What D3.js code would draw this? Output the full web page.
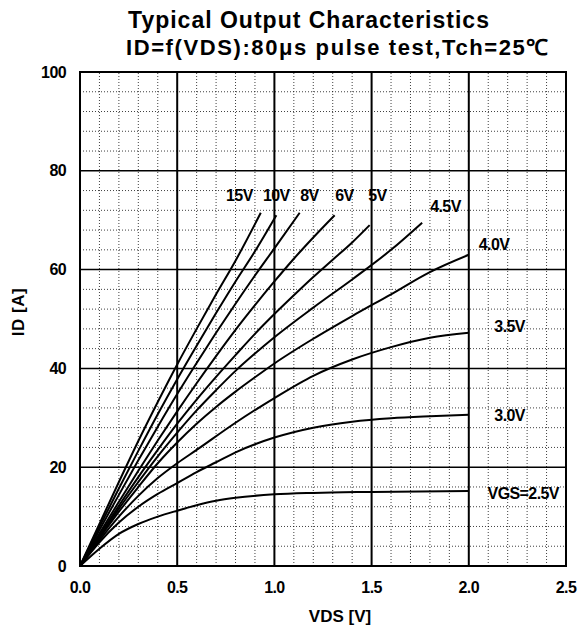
<!DOCTYPE html>
<html>
<head>
<meta charset="utf-8">
<script src="https://d3js.org/d3.v7.min.js"></script>
<style>
  body { margin: 0; background: #fff; }
  text { font-family: "Liberation Sans", Arial, sans-serif; font-weight: bold; fill: #000; }
</style>
</head>
<body>
<div id="vis"></div>
<script>

// curve data, VDS [V] vs ID [A]
var vgsLabels = ["15V", "10V", "8V", "6V", "5V", "4.5V", "4.0V", "3.5V", "3.0V", "VGS=2.5V"];

var vds15  = [0, 0.1, 0.2, 0.3, 0.4, 0.5, 0.6, 0.7, 0.8, 0.93];
var id15   = [0, 8.5, 17, 25.3, 33.2, 40.8, 48, 55, 61.8, 71.5];
var vds10  = [0, 0.1, 0.2, 0.3, 0.4, 0.5, 0.6, 0.7, 0.8, 0.9, 1.01];
var id10   = [0, 7.9, 15.7, 23.3, 30.7, 37.8, 44.6, 51.2, 57.6, 63.7, 71];
var vds8   = [0, 0.1, 0.2, 0.3, 0.4, 0.5, 0.6, 0.7, 0.8, 0.9, 1.0, 1.13];
var id8    = [0, 7.3, 14.4, 21.4, 28.2, 34.8, 41.1, 47.2, 53.1, 58.8, 64.3, 71.5];
var vds6   = [0, 0.1, 0.2, 0.3, 0.4, 0.5, 0.6, 0.7, 0.8, 0.9, 1.0, 1.1, 1.2, 1.31];
var id6    = [0, 6.6, 13, 19.3, 25.4, 31.3, 37, 42.5, 47.8, 52.8, 57.6, 62.2, 66.5, 71];
var vds5   = [0, 0.1, 0.2, 0.3, 0.4, 0.5, 0.6, 0.7, 0.8, 0.9, 1.0, 1.1, 1.2, 1.3, 1.4, 1.49];
var id5    = [0, 6.2, 12.2, 18, 23.5, 28.8, 33.7, 38.3, 42.7, 47, 51, 54.8, 58.5, 62, 65.5, 69];
var vds45  = [0, 0.1, 0.2, 0.3, 0.4, 0.5, 0.6, 0.7, 0.8, 0.9, 1.0, 1.2, 1.4, 1.6, 1.76];
var id45   = [0, 5.9, 11.6, 17, 22.2, 27, 31.5, 35.6, 39.5, 43, 46.3, 52.3, 58, 64, 69.5];
var vds40  = [0, 0.1, 0.2, 0.3, 0.4, 0.5, 0.6, 0.7, 0.8, 0.9, 1.0, 1.2, 1.4, 1.6, 1.8, 2.0];
var id40   = [0, 5.6, 11, 16, 20.8, 25, 28.8, 32.2, 35.3, 38.2, 41, 46, 50.6, 55, 59.5, 63];
var vds35  = [0, 0.1, 0.2, 0.3, 0.4, 0.5, 0.6, 0.8, 1.0, 1.2, 1.4, 1.6, 1.8, 2.0];
var id35   = [0, 5.2, 10, 14.2, 17.8, 20.8, 23.5, 29, 34, 38.5, 41.8, 44.3, 46.2, 47.2];
var vds30  = [0, 0.1, 0.2, 0.3, 0.4, 0.5, 0.6, 0.7, 0.8, 1.0, 1.2, 1.4, 1.6, 1.8, 2.0];
var id30   = [0, 4.8, 8.8, 12, 14.6, 16.8, 19, 21, 23, 26, 28, 29.2, 29.9, 30.3, 30.6];
var vds25  = [0, 0.1, 0.2, 0.3, 0.4, 0.5, 0.6, 0.7, 0.8, 1.0, 1.2, 1.5, 2.0];
var id25   = [0, 3.5, 6.5, 8.5, 10, 11.2, 12.3, 13.2, 13.8, 14.5, 14.8, 15, 15.2];

// where each curve label sits, in V and A
var labelV = [0.82, 1.01, 1.18, 1.36, 1.53, 1.88, 2.13, 2.21, 2.21, 2.28];
var labelI = [75.1, 75.1, 75.1, 75.1, 75.1, 72.7, 65, 48.4, 30.4, 14.6];

var xTicks = [0, 0.5, 1.0, 1.5, 2.0, 2.5];
var yTicks = [0, 20, 40, 60, 80, 100];

var curves = [
  [vds15, id15], [vds10, id10], [vds8, id8], [vds6, id6], [vds5, id5],
  [vds45, id45], [vds40, id40], [vds35, id35], [vds30, id30], [vds25, id25]
];

var width = 579, height = 628;
var margin = {top: 72, right: 13, bottom: 62, left: 80};

var svg = d3.select("#vis").append("svg")
  .attr("width", width)
  .attr("height", height);

var x = d3.scaleLinear().domain([0, 2.5]).range([margin.left, width - margin.right]);
var y = d3.scaleLinear().domain([0, 100]).range([height - margin.bottom, margin.top]);

// minor dotted grid
var minorX = d3.range(1, 25).map(function(i){ return i / 10; }).filter(function(v){ return Math.round(v*10) % 5 != 0; });
var minorY = d3.range(4, 100, 4).filter(function(v){ return v % 20 != 0; });

svg.append("g").selectAll("line").data(minorX).enter().append("line")
  .attr("x1", function(d){ return x(d); }).attr("x2", function(d){ return x(d); })
  .attr("y1", y(0)).attr("y2", y(100))
  .attr("stroke", "#000").attr("stroke-width", 1).attr("stroke-dasharray", "1,2")
  .attr("opacity", 0.75);

svg.append("g").selectAll("line").data(minorY).enter().append("line")
  .attr("y1", function(d){ return y(d); }).attr("y2", function(d){ return y(d); })
  .attr("x1", x(0)).attr("x2", x(2.5))
  .attr("stroke", "#000").attr("stroke-width", 1).attr("stroke-dasharray", "1,2")
  .attr("opacity", 0.75);

// major grid
svg.append("g").selectAll("line").data(xTicks.slice(1, -1)).enter().append("line")
  .attr("x1", function(d){ return x(d); }).attr("x2", function(d){ return x(d); })
  .attr("y1", y(0)).attr("y2", y(100))
  .attr("stroke", "#000").attr("stroke-width", 2);

svg.append("g").selectAll("line").data(yTicks.slice(1, -1)).enter().append("line")
  .attr("y1", function(d){ return y(d); }).attr("y2", function(d){ return y(d); })
  .attr("x1", x(0)).attr("x2", x(2.5))
  .attr("stroke", "#000").attr("stroke-width", 1.5);

// frame
svg.append("rect")
  .attr("x", x(0)).attr("y", y(100))
  .attr("width", x(2.5) - x(0)).attr("height", y(0) - y(100))
  .attr("fill", "none").attr("stroke", "#000").attr("stroke-width", 2);

// curves
var line = d3.line()
  .x(function(d){ return x(d[0]); })
  .y(function(d){ return y(d[1]); })
  .curve(d3.curveMonotoneX);

curves.forEach(function(c) {
  var pts = c[0].map(function(v, i){ return [v, c[1][i]]; });
  svg.append("path").datum(pts)
    .attr("d", line)
    .attr("fill", "none").attr("stroke", "#000").attr("stroke-width", 2);
});

// curve labels
svg.append("g").selectAll("text").data(vgsLabels).enter().append("text")
  .attr("x", function(d, i){ return x(labelV[i]); })
  .attr("y", function(d, i){ return y(labelI[i]); })
  .attr("text-anchor", "middle")
  .attr("dominant-baseline", "central")
  .style("font-size", "16px")
  .style("letter-spacing", "-0.6px")
  .text(function(d){ return d; });

// tick labels
svg.append("g").selectAll("text").data(xTicks).enter().append("text")
  .attr("x", function(d){ return x(d); })
  .attr("y", y(0) + 27)
  .attr("text-anchor", "middle")
  .style("font-size", "16px")
  .style("letter-spacing", "-0.6px")
  .text(function(d){ return d.toFixed(1); });

svg.append("g").selectAll("text").data(yTicks).enter().append("text")
  .attr("x", x(0) - 14)
  .attr("y", function(d){ return y(d); })
  .attr("text-anchor", "end")
  .attr("dominant-baseline", "central")
  .style("font-size", "16px")
  .style("letter-spacing", "-0.6px")
  .text(function(d){ return d; });

// axis titles
svg.append("text")
  .attr("x", 340).attr("y", 622)
  .attr("text-anchor", "middle")
  .style("font-size", "17px")
  .text("VDS [V]");

svg.append("text")
  .attr("transform", "translate(24,312) rotate(-90)")
  .attr("text-anchor", "middle")
  .style("font-size", "17px")
  .style("letter-spacing", "0.5px")
  .text("ID [A]");

// title
svg.append("text")
  .attr("x", 309).attr("y", 28)
  .attr("text-anchor", "middle")
  .style("font-size", "23px")
  .style("letter-spacing", "1px")
  .text("Typical Output Characteristics");

svg.append("text")
  .attr("x", 338).attr("y", 55)
  .attr("text-anchor", "middle")
  .style("font-size", "22px")
  .style("letter-spacing", "1.6px")
  .text("ID=f(VDS):80\u03bcs pulse test,Tch=25\u2103");

</script>
</body>
</html>
